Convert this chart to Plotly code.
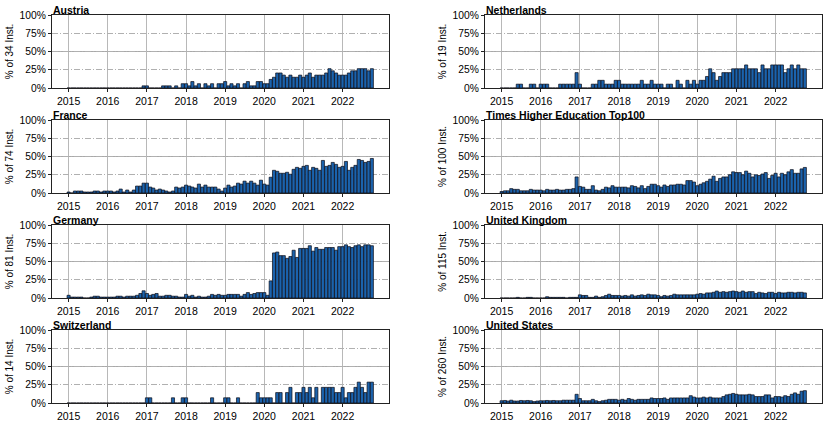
import pandas as pd
import plotly.graph_objects as go

# Monthly values, Jan 2015 .. Oct 2022 (number of institutions)
months = pd.date_range("2015-01-01", periods=94, freq="MS")
year_ticks = ["2015-01-01", "2016-01-01", "2017-01-01", "2018-01-01",
              "2019-01-01", "2020-01-01", "2021-01-01", "2022-01-01"]
year_labels = ["2015", "2016", "2017", "2018", "2019", "2020", "2021", "2022"]
pct_ticks = [0, 25, 50, 75, 100]
pct_labels = ["0%", "25%", "50%", "75%", "100%"]

austria = [0,0,0,0,0,0,0,0,0,0,0,0,
           0,0,0,0,0,0,0,0,0,0,0,1,
           1,0,0,0,0,1,1,1,0,1,0,2,
           2,1,3,1,2,0,2,1,2,0,2,2,
           3,1,2,1,2,0,2,3,1,1,3,3,
           2,2,4,5,7,7,6,5,6,5,5,6,
           5,6,7,5,6,6,6,7,9,8,7,6,
           6,6,7,8,8,9,9,9,8,9]
netherlands = [0,0,0,0,0,1,1,0,0,1,1,0,
               1,1,1,0,0,0,1,1,1,1,1,4,
               1,0,0,0,1,1,2,2,1,1,1,2,
               2,1,1,1,1,1,1,2,1,1,2,1,
               1,1,0,1,1,0,2,1,0,2,1,2,
               1,2,2,3,5,4,2,3,4,4,4,5,
               5,5,5,6,5,5,5,4,6,5,5,6,
               6,6,6,4,5,6,5,6,5,5]
france = [1,0,2,2,2,1,1,1,2,2,1,2,
          2,2,1,2,4,1,3,1,3,7,7,10,
          10,6,5,3,4,3,2,1,2,6,5,6,
          8,7,6,5,9,6,8,6,6,6,4,2,
          5,8,6,7,10,9,12,10,12,10,8,13,
          9,8,16,23,22,20,20,21,19,24,26,25,
          27,28,23,26,25,23,33,27,28,31,29,26,
          27,32,23,26,28,34,33,31,32,35]
the_top100 = [2,3,3,6,5,5,3,3,3,5,4,4,
              4,3,5,4,4,5,4,4,5,5,6,22,
              9,8,5,5,10,4,3,5,8,7,10,8,
              8,8,8,7,10,9,7,10,6,9,12,12,
              10,8,11,9,11,11,12,12,11,17,17,15,
              10,12,14,16,19,23,16,20,22,22,25,29,
              28,28,25,30,27,22,25,24,26,28,20,24,
              27,22,27,25,29,32,27,27,33,35]
germany = [3,1,1,1,1,0,0,1,2,2,1,1,
           1,1,1,2,2,1,2,2,2,3,5,8,
           5,3,4,5,2,2,3,3,2,2,1,1,
           4,2,3,1,2,1,1,2,4,3,4,3,
           3,4,4,4,4,2,4,6,4,5,6,6,
           6,3,19,50,51,47,47,44,46,53,45,55,
           55,55,58,52,56,54,54,56,56,56,53,57,
           57,59,57,56,58,59,57,59,59,58]
united_kingdom = [0,0,0,0,0,1,0,0,1,1,0,0,
                  0,0,2,1,1,1,1,1,0,1,1,1,
                  5,4,4,1,1,3,1,2,4,6,4,4,
                  4,3,4,3,5,3,4,5,4,6,5,5,
                  4,2,4,3,4,6,5,5,5,5,5,5,
                  6,7,6,8,8,9,11,9,10,9,10,11,
                  10,9,11,9,10,10,7,9,8,7,9,9,
                  7,9,8,8,9,9,8,9,9,8]
switzerland = [0,0,0,0,0,0,0,0,0,0,0,0,
               0,0,0,0,0,0,0,0,0,0,0,0,
               1,1,0,0,0,0,0,0,1,0,0,1,
               1,0,0,0,0,0,0,0,1,0,0,0,
               1,1,0,0,1,0,0,0,0,0,2,1,
               1,1,1,0,2,2,0,2,3,0,2,2,
               3,2,3,1,3,0,3,3,3,3,2,2,
               3,1,2,2,3,4,3,2,4,4]
united_states = [8,9,7,10,7,7,9,8,9,8,5,7,
                 8,8,9,8,9,8,8,10,10,10,10,31,
                 16,8,8,8,13,8,5,8,10,13,13,13,
                 10,13,10,16,13,10,13,13,13,13,18,16,
                 16,16,18,13,18,18,18,18,18,18,26,21,
                 18,18,21,18,21,18,18,18,23,29,31,34,
                 31,29,29,29,31,29,23,23,23,29,29,18,
                 23,23,21,26,23,31,36,31,42,44]

panel_names = ["Austria", "Netherlands", "France", "Times Higher Education Top100",
               "Germany", "United Kingdom", "Switzerland", "United States"]
panel_totals = [34, 19, 74, 100, 81, 115, 14, 260]
panel_counts = [austria, netherlands, france, the_top100,
                germany, united_kingdom, switzerland, united_states]

W, H = 830, 428
col_x = [(52, 389), (485, 822)]
row_y = [(15, 88), (120, 193), (225, 298), (330, 403)]
BAR_WIDTH_MS = 29 * 24 * 3600 * 1000

FONT = "Liberation Sans, Arial, Helvetica, sans-serif"
fig = go.Figure()
layout = dict(
    width=W, height=H, margin=dict(l=0, r=0, t=0, b=0, autoexpand=False),
    paper_bgcolor="white", plot_bgcolor="white",
    showlegend=False,
    font=dict(family=FONT, color="black", size=10),
)
shapes = []
annotations = []

for i, (name, total, counts) in enumerate(zip(panel_names, panel_totals, panel_counts)):
    r, c = divmod(i, 2)
    k = i + 1
    xa = "x" if k == 1 else f"x{k}"
    ya = "y" if k == 1 else f"y{k}"
    pct = [100.0 * v / total for v in counts]
    fig.add_trace(go.Bar(
        x=months, y=pct, xaxis=xa, yaxis=ya, width=BAR_WIDTH_MS,
        marker=dict(color="#1b63ad", line=dict(color="#0a0a14", width=0.7)),
        hoverinfo="x+y",
    ))
    x0, x1 = col_x[c]
    yt, yb = row_y[r]
    layout["xaxis" if k == 1 else f"xaxis{k}"] = dict(
        domain=[x0 / W, x1 / W], anchor=ya, automargin=False,
        type="date", range=["2014-07-30", "2023-03-10"],
        tickvals=year_ticks, ticktext=year_labels,
        showgrid=True, gridcolor="#b8b8b8", gridwidth=1,
        showline=True, linecolor="#222222", linewidth=1, mirror=True,
        ticks="outside", ticklen=3, tickcolor="#222222",
        tickfont=dict(size=10.5, family=FONT, color="black"),
        zeroline=False, fixedrange=True,
    )
    layout["yaxis" if k == 1 else f"yaxis{k}"] = dict(
        domain=[1 - yb / H, 1 - yt / H], anchor=xa, automargin=False,
        range=[0, 100], tickvals=pct_ticks, ticktext=pct_labels,
        showgrid=True, gridcolor="#b0b0b0", gridwidth=1, griddash="6px,2px,1px,2px",
        showline=True, linecolor="#222222", linewidth=1, mirror=True,
        ticks="outside", ticklen=3, tickcolor="#222222",
        tickfont=dict(size=10.3, family=FONT, color="black"),
        title=dict(text=f"% of {total} Inst.", font=dict(size=10, family=FONT, color="black"), standoff=4),
        zeroline=False, fixedrange=True,
    )
    shapes.append(dict(type="line", xref=f"{xa} domain", yref=ya, x0=0, x1=1, y0=50, y1=50,
                       line=dict(color="#a8a8a8", width=1), layer="below"))
    annotations.append(dict(text=f"<b>{name}</b>", xref="paper", yref="paper",
                            x=x0 / W, y=1 - yt / H, xanchor="left", yanchor="bottom",
                            showarrow=False, yshift=-2, borderpad=0,
                            font=dict(size=10.5, family=FONT, color="black")))

layout["shapes"] = shapes
layout["annotations"] = annotations
fig.update_layout(**layout)
fig.write_html("out.html", config={"displayModeBar": False},
               post_script="document.body.style.margin='0';document.body.style.overflow='hidden';")
